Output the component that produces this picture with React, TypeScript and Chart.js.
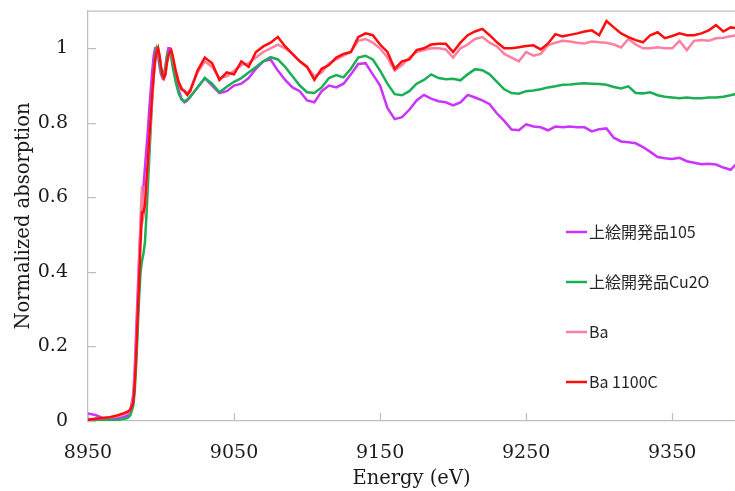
import { useEffect, useRef } from "react";
import { Chart, registerables } from "chart.js";

Chart.register(...registerables);

// Energy grid (eV)
const ENERGY = [
  8950, 8955, 8960, 8965, 8970, 8974, 8977,
  8979, 8981, 8982, 8983, 8984, 8985, 8986, 8987, 8988, 8989,
  8990, 8991, 8992, 8993, 8994, 8995, 8996, 8997, 8998, 8999,
  9000, 9001, 9002, 9003, 9004, 9005, 9006, 9007, 9008, 9010,
  9012, 9014, 9016, 9018,
  9020, 9025, 9030, 9035, 9040, 9045, 9050, 9055, 9060, 9065,
  9070, 9075, 9080, 9085, 9090, 9095, 9100, 9105, 9110, 9115,
  9120, 9125, 9130, 9135, 9140, 9145, 9150, 9155, 9160, 9165,
  9170, 9175, 9180, 9185, 9190, 9195, 9200, 9205, 9210, 9215,
  9220, 9225, 9230, 9235, 9240, 9245, 9250, 9255, 9260, 9265,
  9270, 9275, 9280, 9285, 9290, 9295, 9300, 9305, 9310, 9315,
  9320, 9325, 9330, 9335, 9340, 9345, 9350, 9355, 9360, 9365,
  9370, 9375, 9380, 9385, 9390,
  9394,
];

const LABELS = ["上絵開発品105", "上絵開発品Cu2O", "Ba", "Ba 1100C"];

const ABS_105 = [
  0.02, 0.016, 0.008, 0.006, 0.008, 0.01, 0.015,
  0.03, 0.07, 0.14, 0.24, 0.34, 0.44, 0.52, 0.58, 0.63, 0.68,
  0.73, 0.78, 0.84, 0.89, 0.94, 0.98, 1.0, 1.0, 0.98, 0.95,
  0.93, 0.92, 0.925, 0.95, 0.98, 1.0, 1.0, 0.98, 0.96, 0.92,
  0.89, 0.865, 0.855, 0.86,
  0.87, 0.895, 0.92, 0.9, 0.88, 0.885, 0.9, 0.905, 0.92, 0.945,
  0.965, 0.97, 0.94, 0.915, 0.895, 0.885, 0.86, 0.855, 0.885, 0.9,
  0.895, 0.905, 0.93, 0.958, 0.96, 0.93, 0.9, 0.84, 0.81, 0.815,
  0.835, 0.86, 0.875, 0.865, 0.858, 0.855, 0.847, 0.855, 0.875, 0.868,
  0.86, 0.85, 0.825, 0.805, 0.782, 0.78, 0.796, 0.79, 0.788, 0.78,
  0.79, 0.788, 0.79, 0.788, 0.788, 0.777, 0.783, 0.785, 0.76, 0.75,
  0.748, 0.745, 0.735, 0.722, 0.708, 0.705, 0.703, 0.706, 0.697, 0.693,
  0.689, 0.69, 0.688, 0.68, 0.674,
  0.69,
];

const ABS_CU2O = [
  0.005, 0.003, 0.002, 0.002, 0.003, 0.005, 0.008,
  0.015, 0.04, 0.08, 0.15, 0.24, 0.33, 0.4, 0.43, 0.45, 0.48,
  0.55, 0.63, 0.71, 0.79, 0.87, 0.93, 0.98, 1.0, 0.99, 0.96,
  0.935, 0.925, 0.93, 0.95, 0.975, 0.99, 0.99, 0.975, 0.95, 0.91,
  0.88, 0.862, 0.858, 0.862,
  0.87, 0.895, 0.92, 0.905, 0.882, 0.897, 0.91, 0.92, 0.935, 0.95,
  0.965, 0.976, 0.97, 0.95, 0.925, 0.9, 0.882, 0.88, 0.895, 0.92,
  0.928, 0.922, 0.945, 0.975, 0.98, 0.97, 0.94, 0.905, 0.877, 0.874,
  0.885, 0.905, 0.915, 0.93, 0.92, 0.917, 0.918, 0.914, 0.93, 0.944,
  0.941, 0.93, 0.91, 0.89, 0.88, 0.878, 0.885, 0.887, 0.89, 0.895,
  0.898, 0.902, 0.903, 0.905, 0.906, 0.905, 0.904, 0.902, 0.896, 0.892,
  0.898, 0.88, 0.879, 0.882, 0.874, 0.87, 0.868, 0.866, 0.868, 0.866,
  0.866, 0.868, 0.868, 0.87, 0.874,
  0.878,
];

const ABS_BA = [
  0.005, 0.006, 0.008, 0.01, 0.013, 0.018, 0.022,
  0.03, 0.06, 0.12, 0.2, 0.3, 0.42, 0.55, 0.63, 0.55, 0.57,
  0.63, 0.69, 0.75, 0.81, 0.87, 0.92, 0.96, 0.99, 1.0, 0.98,
  0.95, 0.93, 0.92, 0.93, 0.96, 0.98, 0.99, 0.99, 0.975, 0.94,
  0.91, 0.895, 0.885, 0.88,
  0.89, 0.935, 0.965, 0.95, 0.92, 0.925, 0.94, 0.955, 0.96, 0.975,
  0.99, 1.0, 1.01, 1.0, 0.985, 0.965, 0.95, 0.925, 0.935, 0.96,
  0.97, 0.98, 0.99, 1.02, 1.025, 1.015, 1.0, 0.975, 0.94, 0.955,
  0.975, 0.99, 0.995, 1.0, 1.0, 0.997, 0.975, 1.0, 1.01, 1.025,
  1.03, 1.015, 1.005, 0.985, 0.975, 0.965, 0.99, 0.98, 0.985, 1.008,
  1.015, 1.02, 1.018, 1.015, 1.013, 1.018, 1.016, 1.015, 1.01, 1.002,
  1.025, 1.01, 1.0, 1.0, 1.003, 1.0, 1.0, 1.02, 0.995, 1.02,
  1.022, 1.02, 1.027, 1.028, 1.032,
  1.035,
];

const ABS_BA_1100C = [
  0.003, 0.006, 0.008, 0.01, 0.015, 0.02, 0.025,
  0.03, 0.05, 0.1, 0.18, 0.28, 0.38, 0.48, 0.56, 0.56, 0.58,
  0.64, 0.7, 0.76, 0.82, 0.88, 0.93, 0.97, 0.99, 1.0, 0.98,
  0.95, 0.93, 0.92, 0.93, 0.96, 0.98, 0.99, 0.995, 0.98, 0.94,
  0.91, 0.89, 0.885, 0.875,
  0.885, 0.94, 0.975, 0.96, 0.915, 0.935, 0.93, 0.965, 0.95, 0.99,
  1.005, 1.015, 1.03, 1.005, 0.985, 0.965, 0.95, 0.915, 0.945, 0.955,
  0.975, 0.985, 0.99, 1.03, 1.04, 1.035, 1.01, 0.99, 0.945, 0.965,
  0.97, 0.995, 1.0, 1.01, 1.012, 1.012, 0.99, 1.015, 1.035, 1.045,
  1.052, 1.035, 1.016, 1.0, 1.0, 1.003, 1.006, 1.008, 0.997, 1.013,
  1.038, 1.032, 1.036, 1.04, 1.045, 1.048, 1.035, 1.073, 1.056, 1.04,
  1.03, 1.022, 1.016, 1.035, 1.043, 1.027, 1.033, 1.04, 1.035, 1.035,
  1.04, 1.048, 1.062, 1.045, 1.056,
  1.054,
];

const X_TICKS = [8950, 9050, 9150, 9250, 9350];
const Y_TICKS = [0, 0.2, 0.4, 0.6, 0.8, 1];
const X_MIN = 8950;
const X_MAX = 9393;
const Y_MIN = 0;
const Y_MAX = 1.1;

const COLORS = ["#CC33FF", "#1AAF54", "#FF7FA0", "#FF0D0D"];
const AXIS_GRAY = "#BFBFBF";
const SERIF = '"DejaVu Serif", serif';

const innerTicksPlugin = {
  id: "innerTicks",
  beforeDatasetsDraw(chart: any) {
    const { ctx, chartArea } = chart;
    const xs = chart.scales.x;
    const ys = chart.scales.y;
    ctx.save();
    ctx.strokeStyle = AXIS_GRAY;
    ctx.lineWidth = 1.25;
    ctx.beginPath();
    // top border
    ctx.moveTo(chartArea.left, chartArea.top);
    ctx.lineTo(chartArea.right, chartArea.top);
    xs.ticks.forEach((t: any) => {
      const px = Math.round(xs.getPixelForValue(t.value)) + 0.5;
      ctx.moveTo(px, chartArea.bottom);
      ctx.lineTo(px, chartArea.bottom - 8);
    });
    ys.ticks.forEach((t: any) => {
      const py = Math.round(ys.getPixelForValue(t.value)) + 0.5;
      ctx.moveTo(chartArea.left, py);
      ctx.lineTo(chartArea.left + 8, py);
    });
    ctx.stroke();
    ctx.restore();
  },
};

const sideLegendPlugin = {
  id: "sideLegend",
  afterDatasetsDraw(chart: any) {
    const { ctx, chartArea } = chart;
    ctx.save();
    ctx.font = '16px "Noto Sans CJK JP", "Noto Sans", sans-serif';
    ctx.textBaseline = "middle";
    ctx.textAlign = "left";
    const x0 = chartArea.left + 478;
    chart.data.datasets.forEach((ds: any, i: number) => {
      const y = chartArea.top + 221 + i * 50;
      ctx.strokeStyle = ds.borderColor;
      ctx.lineWidth = 2.5;
      ctx.beginPath();
      ctx.moveTo(x0, y);
      ctx.lineTo(x0 + 21, y);
      ctx.stroke();
      ctx.fillStyle = "#262626";
      ctx.fillText(ds.label, x0 + 23, y);
    });
    ctx.restore();
  },
};

export default function App() {
  const canvasRef = useRef<HTMLCanvasElement | null>(null);

  useEffect(() => {
    document.body.style.margin = "0";
    const canvas = canvasRef.current;
    if (!canvas) return;
    const series = [ABS_105, ABS_CU2O, ABS_BA, ABS_BA_1100C];
    const chart = new Chart(canvas, {
      type: "line",
      data: {
        datasets: series.map((vals, i) => ({
          label: LABELS[i],
          data: ENERGY.map((e, j) => ({ x: e, y: vals[j] })),
          borderColor: COLORS[i],
          backgroundColor: COLORS[i],
          borderWidth: 2.5,
          pointRadius: 0,
          tension: 0,
          fill: false,
          order: series.length - 1 - i,
        })),
      },
      options: {
        animation: false,
        responsive: true,
        maintainAspectRatio: false,
        layout: { padding: { top: 11, right: 0, left: 0, bottom: 0 } },
        plugins: {
          legend: { display: false },
          tooltip: { enabled: false },
        },
        scales: {
          x: {
            type: "linear",
            min: X_MIN,
            max: X_MAX,
            afterBuildTicks: (scale: any) => {
              scale.ticks = X_TICKS.map((v) => ({ value: v }));
            },
            afterFit: (scale: any) => {
              scale.height = 70;
              scale.paddingLeft = 0;
              scale.paddingRight = 0;
            },
            grid: { display: false, drawTicks: false, drawOnChartArea: false },
            border: { display: true, color: AXIS_GRAY, width: 1.25 },
            ticks: {
              autoSkip: false,
              maxRotation: 0,
              padding: 21,
              color: "#1a1a1a",
              font: { family: SERIF, size: 19 },
              callback: (v: any) => String(v),
            },
            title: {
              display: true,
              text: "Energy (eV)",
              color: "#1a1a1a",
              font: { family: SERIF, size: 19.5 },
              padding: { top: 0, bottom: 0 },
            },
          },
          y: {
            type: "linear",
            min: Y_MIN,
            max: Y_MAX,
            afterBuildTicks: (scale: any) => {
              scale.ticks = Y_TICKS.map((v) => ({ value: v }));
            },
            afterFit: (scale: any) => {
              scale.width = 88;
              scale.paddingTop = 0;
              scale.paddingBottom = 0;
            },
            grid: { display: false, drawTicks: false, drawOnChartArea: false },
            border: { display: true, color: AXIS_GRAY, width: 1.25 },
            ticks: {
              padding: 20,
              color: "#1a1a1a",
              font: { family: SERIF, size: 19 },
              callback: (v: any) => String(Math.round(Number(v) * 10) / 10),
            },
            title: {
              display: true,
              text: "Normalized absorption",
              color: "#1a1a1a",
              font: { family: SERIF, size: 19.5 },
              padding: { top: 12, bottom: 0 },
            },
          },
        },
      },
      plugins: [innerTicksPlugin, sideLegendPlugin],
    });
    return () => chart.destroy();
  }, []);

  return (
    <div style={{ width: 735, height: 491, position: "relative" }}>
      <canvas ref={canvasRef} />
    </div>
  );
}
